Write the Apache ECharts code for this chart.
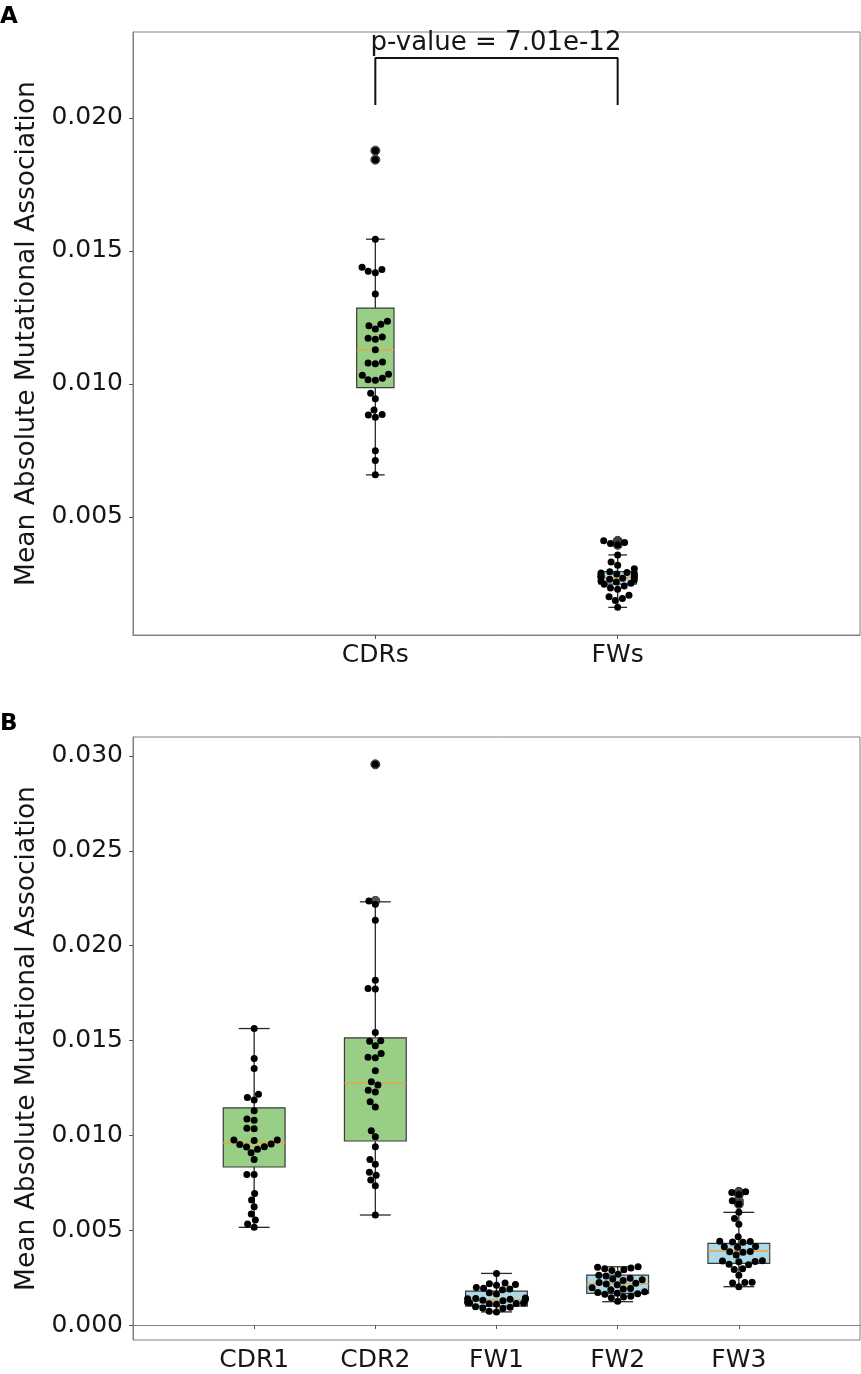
<!DOCTYPE html>
<html><head><meta charset="utf-8">
<script src="https://cdn.jsdelivr.net/npm/echarts@6/dist/echarts.min.js"></script>
<style>html,body{margin:0;padding:0;background:#fff}#c{width:861px;height:1374px}</style>
</head><body><div id="c"></div>
<script>
// ---------- data ----------
const catsA = ['CDRs', 'FWs'];
const catsB = ['CDR1', 'CDR2', 'FW1', 'FW2', 'FW3'];
const ticksA = [0.005, 0.010, 0.015, 0.020];
const ticksB = [0.000, 0.005, 0.010, 0.015, 0.020, 0.025, 0.030];
const pValueText = 'p-value = 7.01e-12';
const yLabel = 'Mean Absolute Mutational Association';

// box stats: [lower whisker, Q1, median, Q3, upper whisker]
const boxCDRs = [0.00658, 0.00986, 0.01128, 0.01285, 0.01544];
const boxFWs  = [0.00160, 0.00247, 0.00272, 0.00294, 0.00357];
const boxCDR1 = [0.00515, 0.00833, 0.00961, 0.01145, 0.01563];
const boxCDR2 = [0.00580, 0.00970, 0.01274, 0.01514, 0.02231];
const boxFW1  = [0.00069, 0.00100, 0.00132, 0.00179, 0.00272];
const boxFW2  = [0.00123, 0.00167, 0.00216, 0.00263, 0.00307];
const boxFW3  = [0.00202, 0.00325, 0.00390, 0.00430, 0.00594];

// individual points
const ptsCDRs = [0.01877, 0.01843, 0.01544, 0.01439, 0.01430, 0.01424, 0.01418, 0.01338,
  0.01236, 0.01224, 0.01219, 0.01206, 0.01176, 0.01172, 0.01168, 0.01128,
  0.01082, 0.01079, 0.01076, 0.01036, 0.01033, 0.01021, 0.01016, 0.01014,
  0.00965, 0.00944, 0.00902, 0.00885, 0.00883, 0.00875, 0.00749, 0.00712, 0.00658];
const ptsFWs = [0.00410, 0.00404, 0.00400, 0.00395, 0.00357, 0.00330, 0.00318, 0.00305,
  0.00294, 0.00291, 0.00289, 0.00287, 0.00285, 0.00282, 0.00279, 0.00276, 0.00274,
  0.00272, 0.00269, 0.00266, 0.00263, 0.00259, 0.00255, 0.00251, 0.00247, 0.00240,
  0.00233, 0.00228, 0.00205, 0.00200, 0.00193, 0.00186, 0.00160];
const ptsCDR1 = [0.01563, 0.01405, 0.01353, 0.01217, 0.01200, 0.01186, 0.01129,
  0.01086, 0.01080, 0.01037, 0.01035, 0.00975, 0.00975, 0.00973, 0.00954, 0.00952,
  0.00940, 0.00938, 0.00927, 0.00908, 0.00873, 0.00794, 0.00794,
  0.00694, 0.00659, 0.00623, 0.00585, 0.00553, 0.00532, 0.00515];
const ptsCDR2 = [0.02956, 0.02236, 0.02218, 0.02134, 0.01818, 0.01774, 0.01772,
  0.01542, 0.01498, 0.01496, 0.01472, 0.01432, 0.01411, 0.01409, 0.01340,
  0.01282, 0.01265, 0.01238, 0.01229, 0.01177, 0.01150, 0.01024, 0.00992,
  0.00940, 0.00873, 0.00847, 0.00805, 0.00790, 0.00764, 0.00734, 0.00580];
const ptsFW1 = [0.00272, 0.00222, 0.00218, 0.00214, 0.00210, 0.00198, 0.00194, 0.00190,
  0.00186, 0.00170, 0.00164, 0.00142, 0.00140, 0.00138, 0.00136, 0.00134, 0.00131,
  0.00128, 0.00120, 0.00118, 0.00116, 0.00114, 0.00112, 0.00110, 0.00096, 0.00093,
  0.00090, 0.00087, 0.00072, 0.00069];
const ptsFW2 = [0.00307, 0.00305, 0.00300, 0.00296, 0.00292, 0.00288, 0.00268, 0.00263,
  0.00258, 0.00246, 0.00242, 0.00238, 0.00235, 0.00224, 0.00220, 0.00216, 0.00212,
  0.00196, 0.00193, 0.00190, 0.00186, 0.00176, 0.00172, 0.00168, 0.00165, 0.00162,
  0.00152, 0.00148, 0.00144, 0.00125];
const ptsFW3 = [0.00702, 0.00698, 0.00688, 0.00655, 0.00638, 0.00594, 0.00562, 0.00531,
  0.00465, 0.00442, 0.00440, 0.00438, 0.00436, 0.00414, 0.00412, 0.00410, 0.00388,
  0.00386, 0.00384, 0.00369, 0.00339, 0.00337, 0.00335, 0.00333, 0.00320, 0.00318,
  0.00296, 0.00293, 0.00263, 0.00226, 0.00224, 0.00222, 0.00202];

// ---------- style / layout ----------
const FONT = 'DejaVu Sans';
const TXT = '#161616';
const GREEN = '#98ce86', BLUE = '#add8e6';
const frameColor = '#808080';
const dot = 7;
const boxWA = 0.154, boxWB = 0.51;

const groupsA = [
  {x: 1, box: boxCDRs, pts: ptsCDRs, fill: GREEN},
  {x: 2, box: boxFWs, pts: ptsFWs, fill: BLUE}
];
const groupsB = [
  {x: 1, box: boxCDR1, pts: ptsCDR1, fill: GREEN},
  {x: 2, box: boxCDR2, pts: ptsCDR2, fill: GREEN},
  {x: 3, box: boxFW1, pts: ptsFW1, fill: BLUE},
  {x: 4, box: boxFW2, pts: ptsFW2, fill: BLUE},
  {x: 5, box: boxFW3, pts: ptsFW3, fill: BLUE}
];

function boxRender(width, groups) {
  return function (params, api) {
    const x = api.value(0);
    const lo = api.value(1), q1 = api.value(2), md = api.value(3), q3 = api.value(4), hi = api.value(5);
    const yLo = api.coord([x, lo])[1], yQ1 = api.coord([x, q1])[1], yMd = api.coord([x, md])[1];
    const yQ3 = api.coord([x, q3])[1], yHi = api.coord([x, hi])[1];
    const cx = api.coord([x, q1])[0];
    const xl = api.coord([x - width / 2, q1])[0], xr = api.coord([x + width / 2, q1])[0];
    const cl = api.coord([x - width / 4, q1])[0], cr = api.coord([x + width / 4, q1])[0];
    const ls = {stroke: '#2a2a2a', lineWidth: 1.3};
    return {type: 'group', children: [
      {type: 'line', shape: {x1: cx, y1: yHi, x2: cx, y2: yQ3}, style: ls},
      {type: 'line', shape: {x1: cx, y1: yQ1, x2: cx, y2: yLo}, style: ls},
      {type: 'line', shape: {x1: cl, y1: yHi, x2: cr, y2: yHi}, style: ls},
      {type: 'line', shape: {x1: cl, y1: yLo, x2: cr, y2: yLo}, style: ls},
      {type: 'rect', shape: {x: xl, y: yQ3, width: xr - xl, height: yQ1 - yQ3},
        style: {fill: groups[params.dataIndex].fill, stroke: '#3a3a3a', lineWidth: 1.2}},
      {type: 'line', shape: {x1: xl, y1: yMd, x2: xr, y2: yMd}, style: {stroke: '#f2a33a', lineWidth: 1.4}}
    ]};
  };
}

function xAxisCfg(grid, max, cats) {
  const vals = cats.map((c, i) => i + 1);
  return {
    gridIndex: grid, type: 'value', min: 0, max: max,
    splitLine: {show: false},
    axisLine: {show: true, lineStyle: {color: frameColor, width: 1}},
    axisTick: {show: true, customValues: vals, length: 4, lineStyle: {color: '#555'}},
    axisLabel: {customValues: vals, formatter: v => cats[Math.round(v) - 1] || '',
      fontSize: 25, fontFamily: FONT, color: TXT, margin: 8}
  };
}
function yAxisCfg(grid, min, max, ticks) {
  return {
    gridIndex: grid, type: 'value', min: min, max: max,
    splitLine: {show: false},
    axisLine: {show: true, lineStyle: {color: frameColor, width: 1}},
    axisTick: {show: true, customValues: ticks, length: 4, lineStyle: {color: '#555'}},
    axisLabel: {customValues: ticks, formatter: v => v.toFixed(3),
      fontSize: 25, fontFamily: FONT, color: TXT, margin: 10},
    name: yLabel, nameLocation: 'middle', nameGap: 92,
    nameTextStyle: {fontSize: 26.5, fontFamily: FONT, color: TXT}
  };
}

function fliers(groups) {
  const out = [];
  groups.forEach(g => g.pts.forEach(v => { if (v > g.box[4] || v < g.box[0]) out.push([g.x, v]); }));
  return out;
}

const chart = echarts.init(document.getElementById('c'), null, {renderer: 'canvas'});
const option = {
  animation: false,
  backgroundColor: '#fff',
  grid: [
    {left: 133, top: 32, width: 727, height: 603, show: true, borderColor: frameColor, borderWidth: 1, backgroundColor: 'transparent'},
    {left: 133, top: 737, width: 727, height: 603, show: true, borderColor: frameColor, borderWidth: 1, backgroundColor: 'transparent'}
  ],
  xAxis: [xAxisCfg(0, 3, catsA), xAxisCfg(1, 6, catsB)],
  yAxis: [yAxisCfg(0, 0.00056, 0.02323, ticksA), yAxisCfg(1, -0.00079, 0.0310, ticksB)],
  series: [
    {type: 'custom', xAxisIndex: 0, yAxisIndex: 0, renderItem: boxRender(boxWA, groupsA),
      data: groupsA.map(g => [g.x].concat(g.box)), z: 2, silent: true},
    {type: 'custom', xAxisIndex: 1, yAxisIndex: 1, renderItem: boxRender(boxWB, groupsB),
      data: groupsB.map(g => [g.x].concat(g.box)), z: 2, silent: true},
    {type: 'scatter', xAxisIndex: 0, yAxisIndex: 0, data: fliers(groupsA), symbolSize: 9,
      itemStyle: {color: '#555', borderColor: '#333', borderWidth: 1, opacity: 1}, z: 3, silent: true},
    {type: 'scatter', xAxisIndex: 1, yAxisIndex: 1, data: fliers(groupsB), symbolSize: 9,
      itemStyle: {color: '#555', borderColor: '#333', borderWidth: 1, opacity: 1}, z: 3, silent: true},
    {id: 'ptsA', type: 'scatter', xAxisIndex: 0, yAxisIndex: 0, data: [], symbolSize: dot,
      itemStyle: {color: '#000', opacity: 1}, z: 4, silent: true},
    {id: 'ptsB', type: 'scatter', xAxisIndex: 1, yAxisIndex: 1, data: [], symbolSize: dot,
      itemStyle: {color: '#000', opacity: 1}, z: 4, silent: true},
    {type: 'line', xAxisIndex: 0, yAxisIndex: 0, symbol: 'none', silent: true, z: 5,
      lineStyle: {color: '#111', width: 2},
      data: [[1, 0.02049], [1, 0.02225], [2, 0.02225], [2, 0.02049]]}
  ],
  graphic: [
    {type: 'text', x: 496, y: 43, style: {text: pValueText, font: '26px "DejaVu Sans"', fill: TXT,
      align: 'center', verticalAlign: 'middle'}, z: 10},
    {type: 'text', x: 0, y: 17, style: {text: 'A', font: 'bold 23px "DejaVu Sans"', fill: '#000',
      align: 'left', verticalAlign: 'middle'}, z: 10},
    {type: 'text', x: 0, y: 724, style: {text: 'B', font: 'bold 23px "DejaVu Sans"', fill: '#000',
      align: 'left', verticalAlign: 'middle'}, z: 10}
  ]
};
chart.setOption(option);

// beeswarm layout computed in pixel space from values, clamped to the box width
function swarm(gridIdx, groups, d, halfW) {
  const finder = {gridIndex: gridIdx};
  const p0 = chart.convertToPixel(finder, [0, 0.01])[0];
  const p1 = chart.convertToPixel(finder, [1, 0.01])[0];
  const ppu = p1 - p0;
  const limit = halfW * ppu - 2;
  const res = [];
  groups.forEach(g => {
    const ys = g.pts.map(v => chart.convertToPixel(finder, [g.x, v])[1]);
    const order = g.pts.map((v, i) => i).sort((a, b) => ys[b] - ys[a]);
    const placed = [];
    order.forEach(i => {
      const y = ys[i];
      const near = placed.filter(p => Math.abs(p.y - y) < d);
      const cands = [0];
      near.forEach(p => { const dx = Math.sqrt(d * d - (p.y - y) * (p.y - y)); cands.push(p.x + dx, p.x - dx); });
      cands.sort((a, b) => Math.abs(a) - Math.abs(b) || a - b);
      let chosen = 0;
      for (const c of cands) {
        if (near.every(p => (p.x - c) * (p.x - c) + (p.y - y) * (p.y - y) >= d * d - 1e-6)) { chosen = c; break; }
      }
      chosen = Math.max(-limit, Math.min(limit, chosen));
      placed.push({x: chosen, y: y});
      res.push([g.x + chosen / ppu, g.pts[i]]);
    });
  });
  return res;
}
chart.setOption({series: [
  {id: 'ptsA', data: swarm(0, groupsA, dot + 0.3, boxWA / 2)},
  {id: 'ptsB', data: swarm(1, groupsB, dot + 0.3, boxWB / 2)}
]});
</script>
</body></html>
